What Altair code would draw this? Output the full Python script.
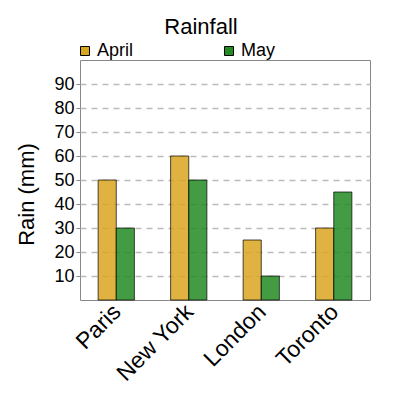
import altair as alt
import pandas as pd

cities = ["Paris", "New York", "London", "Toronto"]
april = [50, 60, 25, 30]
may = [30, 50, 10, 45]
months = ["April", "May"]
colors = ["#DAA520", "#228B22"]
yticks = [10, 20, 30, 40, 50, 60, 70, 80, 90]

rows = []
for c, a, m in zip(cities, april, may):
    rows.append({"city": c, "month": "April", "rain": a})
    rows.append({"city": c, "month": "May", "rain": m})
df = pd.DataFrame(rows)

FONT = "Liberation Sans"

chart = alt.Chart(df).mark_bar(
    stroke="black", strokeWidth=1, strokeOpacity=0.7, fillOpacity=0.85
).encode(
    x=alt.X("city:N", sort=cities,
            scale=alt.Scale(paddingInner=0.5, paddingOuter=0.25),
            axis=alt.Axis(title=None, labelAngle=-45, labelAlign="right",
                          labelBaseline="middle", labelFontSize=23, labelColor="black",
                          ticks=False, domain=False, labelPadding=8, labelOffset=1,
                          labelFont=FONT)),
    xOffset=alt.XOffset("month:N", sort=months,
                        scale=alt.Scale(paddingInner=0, paddingOuter=0)),
    y=alt.Y("rain:Q", scale=alt.Scale(domain=[0, 100], nice=False),
            axis=alt.Axis(values=yticks, title="Rain (mm)", titleFontSize=22,
                          titleFontWeight="normal", titleColor="black", titleFont=FONT,
                          titleX=-47, titleY=134, titleBaseline="alphabetic",
                          titleAlign="center", titleAngle=-90,
                          labelFontSize=18, labelColor="black", labelFont=FONT,
                          labelPadding=2, tickSize=4, tickColor="#888",
                          domain=False, grid=True, gridColor="#bbbbbb",
                          gridDash=[6, 5], gridWidth=1.5)),
    color=alt.Color("month:N", sort=months,
                    scale=alt.Scale(domain=months, range=colors),
                    legend=alt.Legend(title=None, orient="none", legendX=-4, legendY=-18,
                                      direction="horizontal", columns=2, columnPadding=86,
                                      symbolType="square", symbolSize=81,
                                      symbolStrokeColor="black", symbolStrokeWidth=1,
                                      symbolOpacity=1, labelFontSize=18, labelFont=FONT,
                                      labelColor="black", labelOffset=3, padding=0)),
).properties(
    width=290, height=240,
    title=alt.TitleParams("Rainfall", fontSize=22, fontWeight="normal", font=FONT,
                          color="black", anchor="middle", dx=-24, dy=16, offset=2,
                          baseline="alphabetic"),
    autosize=alt.AutoSizeParams(type="none"),
    padding={"left": 72, "top": 52, "right": 22, "bottom": 92},
).configure_view(stroke="#888", strokeWidth=1)

chart.save("out.html", embed_options={"renderer": "svg", "actions": False})
